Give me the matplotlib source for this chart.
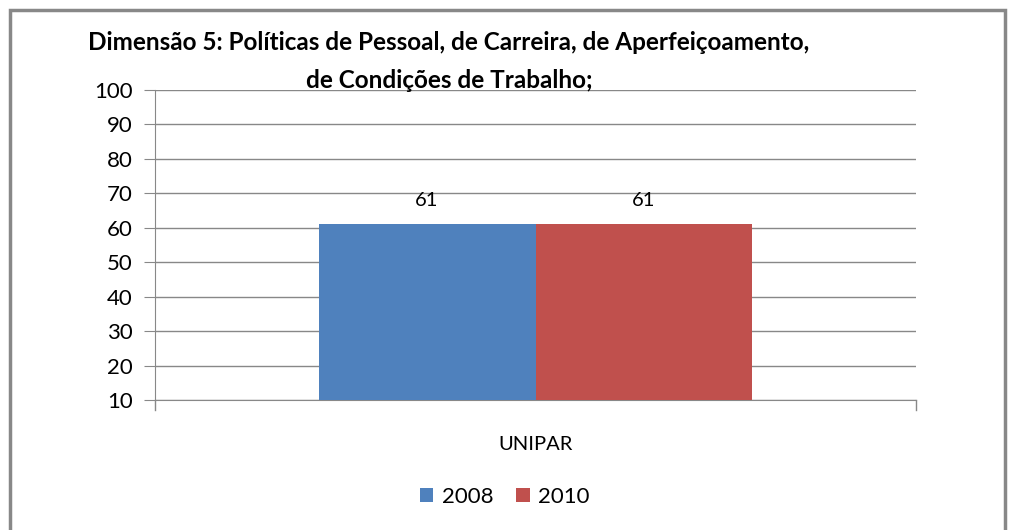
import matplotlib.pyplot as plt
import numpy as np
from matplotlib.patches import Rectangle

categorias = ["UNIPAR"]
anos = ["2008", "2010"]
valores_2008 = [61]
valores_2010 = [61]
cores = ["#4F81BD", "#C0504D"]
titulo = ["Dimensão 5: Políticas de Pessoal, de Carreira, de Aperfeiçoamento,",
          "de Condições de Trabalho;"]

plt.rcParams['font.family'] = ['Lato', 'DejaVu Sans']

fig = plt.figure(figsize=(10.09, 5.30), dpi=100)
ax = fig.add_axes([155 / 1009, 1 - 400 / 530, (916 - 155) / 1009, 310 / 530])

x = np.arange(len(categorias))
largura = 0.285
b1 = ax.bar(x - largura / 2, valores_2008, largura, color=cores[0], label=anos[0], zorder=3)
b2 = ax.bar(x + largura / 2, valores_2010, largura, color=cores[1], label=anos[1], zorder=3)
for barras in (b1, b2):
    for b in barras:
        ax.text(b.get_x() + b.get_width() / 2, b.get_height() + 4.5, f"{b.get_height():.0f}",
                ha="center", va="bottom", fontsize=14.5)

ax.set_xlim(-0.5, 0.5)
ax.set_ylim(10, 100)
ax.set_yticks(range(10, 101, 10))
ax.yaxis.grid(True, color="#888888", linewidth=1, zorder=0)
ax.set_xticks([0])
ax.set_xticklabels(categorias, fontsize=14.5)
ax.tick_params(axis="x", length=0, pad=26)
ax.tick_params(axis="y", length=8, color="#888888", labelsize=16, pad=8)
for lado in ("top", "right"):
    ax.spines[lado].set_visible(False)
for lado in ("left", "bottom"):
    ax.spines[lado].set_color("#888888")
# marcas de divisão das categorias
for xb in (-0.5, 0.5):
    ax.plot([xb, xb], [10, 7], color="#888888", linewidth=1, clip_on=False)

# título em duas linhas
for i, linha in enumerate(titulo):
    fig.text(449 / 1009, 1 - (42 + 38 * i) / 530, linha,
             ha="center", va="center", fontsize=17.5, fontweight="bold")

fig.legend(loc="center", bbox_to_anchor=(505 / 1009, 1 - 497 / 530), ncol=2, frameon=False,
           fontsize=16, handlelength=0.6, handleheight=0.6, handletextpad=0.4, columnspacing=1.0)

fig.patches.append(Rectangle((10 / 1009, -0.1), (1005 - 10) / 1009, 1.1 - 10 / 530,
                             transform=fig.transFigure, fill=False, edgecolor="#888888", linewidth=2.5))

fig.savefig("out.png", dpi=100)
